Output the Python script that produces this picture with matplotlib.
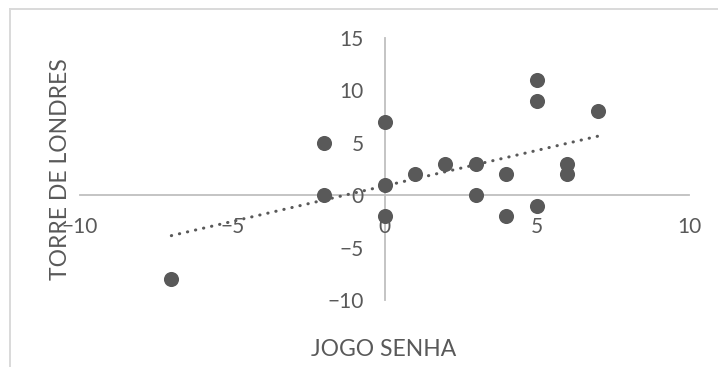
import numpy as np
import matplotlib.pyplot as plt
from matplotlib.lines import Line2D

# dados
jogo_senha = [-7, -2, -2, 0, 0, 0, 1, 2, 3, 3, 4, 4, 5, 5, 5, 6, 6, 7]
torre_londres = [-8, 5, 0, 7, 1, -2, 2, 3, 3, 0, 2, -2, 11, 9, -1, 3, 2, 8]
x_ticks = [-10, -5, 0, 5, 10]
y_ticks = [-10, -5, 0, 5, 10, 15]

cinza = '#595959'
plt.rcParams['font.family'] = ['Lato', 'DejaVu Sans']

fig = plt.figure(figsize=(7.18, 3.67), dpi=100)
ax = fig.add_axes([80/718, 1-300/367, (689-80)/718, (300-38)/367])

# borda da area do grafico (so topo e esquerda aparecem)
borda = '#d9d9d9'
fig.lines.append(Line2D([9.5/718, 1], [1-9/367, 1-9/367], transform=fig.transFigure,
                        color=borda, linewidth=1.4))
fig.lines.append(Line2D([9.5/718, 9.5/718], [0, 1-9/367], transform=fig.transFigure,
                        color=borda, linewidth=1.4))

ax.scatter(jogo_senha, torre_londres, s=118, color=cinza, zorder=3, linewidths=0)

# linha de tendencia linear
a, b = np.polyfit(jogo_senha, torre_londres, 1)
xs = np.array([min(jogo_senha), max(jogo_senha)])
ax.plot(xs, a*xs + b, color=cinza, linewidth=2.2, linestyle=(0, (0.1, 2.6)),
        dash_capstyle='round', zorder=4)

ax.set_xlim(-10, 10)
ax.set_ylim(-10, 15)
ax.set_xticks(x_ticks)
ax.set_yticks(y_ticks)

for s in ['top', 'right']:
    ax.spines[s].set_visible(False)
ax.spines['left'].set_position('zero')
ax.spines['bottom'].set_position('zero')
for s in ['left', 'bottom']:
    ax.spines[s].set_color('#bfbfbf')
    ax.spines[s].set_linewidth(1.3)
    ax.spines[s].set_zorder(1)

ax.tick_params(axis='x', length=0, pad=16, labelsize=15, labelcolor=cinza)
ax.tick_params(axis='y', length=0, pad=15, labelsize=15, labelcolor=cinza)
ax.patch.set_alpha(0)

fig.text(384/718, 1-349/367, 'JOGO SENHA', ha='center', va='center', fontsize=16.5, color=cinza)
fig.text(61/718, 1-169/367, 'TORRE DE LONDRES', ha='center', va='center', rotation=90,
         fontsize=16.5, color=cinza)

fig.savefig('out.png', dpi=100)
